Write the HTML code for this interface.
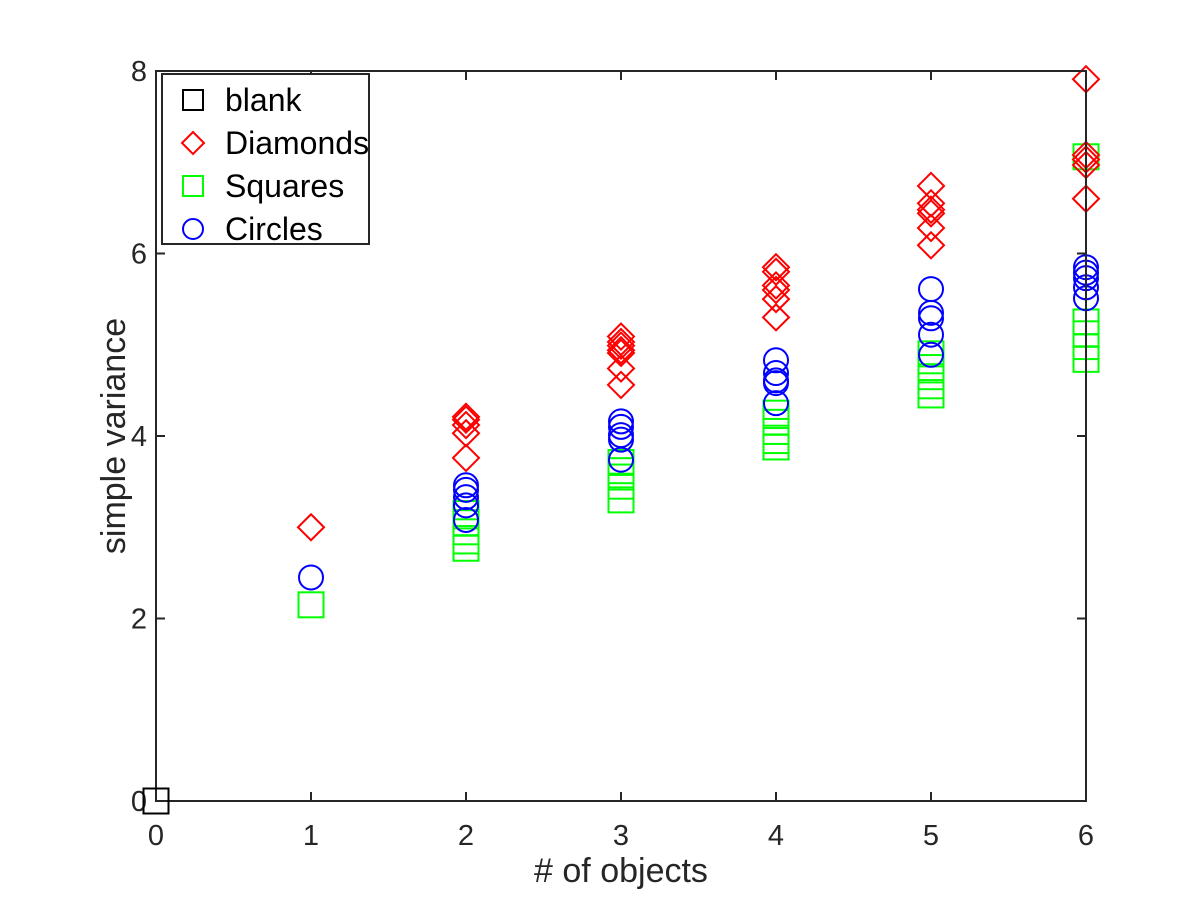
<!DOCTYPE html>
<html><head><meta charset="utf-8"><style>
html,body{margin:0;padding:0;background:#fff;}
svg{display:block;font-family:"Liberation Sans",sans-serif;}
</style></head><body>
<svg id="chart" width="1200" height="900" viewBox="0 0 1200 900">
<rect x="0" y="0" width="1200" height="900" fill="#fff"/>
<g id="marks"></g>
<g id="axes"></g>
<g id="legend"></g>
</svg>
<script>
const xTicks = [0,1,2,3,4,5,6];
const yTicks = [0,2,4,6,8];
const blankX = [0];
const blankY = [0];
const diamondX = [1, 2,2,2,2,2, 3,3,3,3,3,3,3, 4,4,4,4,4,4, 5,5,5,5,5,5, 6,6,6,6,6];
const diamondY = [3.0, 4.21,4.18,4.12,4.03,3.76, 5.09,5.03,4.99,4.94,4.91,4.74,4.56, 5.85,5.80,5.65,5.60,5.50,5.30, 6.74,6.55,6.48,6.44,6.28,6.09, 7.91,7.08,7.03,6.97,6.60];
const squareX = [1, 2,2,2,2,2, 3,3,3,3,3, 4,4,4,4,4, 5,5,5,5,5, 6,6,6,6,6];
const squareY = [2.15, 2.77,2.85,2.95,3.05,3.15, 3.30,3.45,3.55,3.62,3.71, 3.88,3.95,4.05,4.15,4.25, 4.45,4.55,4.65,4.75,4.90, 7.06,5.25,5.12,4.98,4.84];
const circleX = [1, 2,2,2,2,2, 3,3,3,3,3, 4,4,4,4,4, 5,5,5,5,5, 6,6,6,6,6];
const circleY = [2.45, 3.46,3.41,3.33,3.24,3.08, 4.16,4.10,4.01,3.96,3.74, 4.83,4.69,4.61,4.58,4.36, 5.61,5.35,5.29,5.11,4.89, 5.85,5.79,5.73,5.63,5.51];

const X0=156, X1=1086, Y0=801, Y1=71;
const sx = v => X0 + (v-0)/(6-0)*(X1-X0);
const sy = v => Y0 - (v-0)/(8-0)*(Y0-Y1);
const NS="http://www.w3.org/2000/svg";
function mk(tag, attrs, parent){const e=document.createElementNS(NS,tag);for(const k in attrs)e.setAttribute(k,attrs[k]);parent.appendChild(e);return e;}
const marks=document.getElementById('marks'), axes=document.getElementById('axes'), legend=document.getElementById('legend');

function square(cx,cy,h,color,parent,name){const e=mk('rect',{x:cx-h,y:cy-h,width:2*h,height:2*h,fill:'none',stroke:color,'stroke-width':2},parent);

return e;}
function diamond(cx,cy,h,color,parent,name){const e=mk('polygon',{points:`${cx},${cy-h} ${cx+h},${cy} ${cx},${cy+h} ${cx-h},${cy}`,fill:'none',stroke:color,'stroke-width':2},parent);

return e;}
function circle(cx,cy,r,color,parent,name){const e=mk('circle',{cx:cx,cy:cy,r:r,fill:'none',stroke:color,'stroke-width':2},parent);

return e;}

for(let i=0;i<squareX.length;i++) square(sx(squareX[i]),sy(squareY[i]),12.5,'#00ff00',marks,'square-point');
for(let i=0;i<circleX.length;i++) circle(sx(circleX[i]),sy(circleY[i]),12,'#0000ff',marks,'circle-point');
for(let i=0;i<diamondX.length;i++) diamond(sx(diamondX[i]),sy(diamondY[i]),13,'#ff0000',marks,'diamond-point');

const box=mk('rect',{x:X0,y:Y1,width:X1-X0,height:Y0-Y1,fill:'none',stroke:'#262626','stroke-width':2},axes);


for(const t of xTicks){const x=sx(t);
 mk('line',{x1:x,y1:Y0,x2:x,y2:Y0-9,stroke:'#262626','stroke-width':2},axes);
 mk('line',{x1:x,y1:Y1,x2:x,y2:Y1+9,stroke:'#262626','stroke-width':2},axes);
 const tx=mk('text',{x:x,y:Y0+44,'text-anchor':'middle','font-size':29,fill:'#262626'},axes);tx.textContent=t;
 
 }
for(const t of yTicks){const y=sy(t);
 mk('line',{x1:X0,y1:y,x2:X0+9,y2:y,stroke:'#262626','stroke-width':2},axes);
 mk('line',{x1:X1,y1:y,x2:X1-9,y2:y,stroke:'#262626','stroke-width':2},axes);
 const tx=mk('text',{x:X0-9,y:y+10,'text-anchor':'end','font-size':29,fill:'#262626'},axes);tx.textContent=t;
 
 }
const xl=mk('text',{x:621,y:882,'text-anchor':'middle','font-size':34,fill:'#262626'},axes);xl.textContent='# of objects';


const yl=mk('text',{x:0,y:0,'text-anchor':'middle','font-size':34,fill:'#262626',transform:'translate(125,436) rotate(-90)'},axes);yl.textContent='simple variance';



for(let i=0;i<blankX.length;i++) square(sx(blankX[i]),sy(blankY[i]),12.5,'#000000',axes,'blank-point');

const lb=mk('rect',{x:162,y:74,width:207,height:170,fill:'#fff',stroke:'#262626','stroke-width':2},legend);


const entries=[['blank','#000000',square],['Diamonds','#ff0000',diamond],['Squares','#00ff00',square],['Circles','#0000ff',circle]];
entries.forEach((e,i)=>{const y=100+i*43;
 const size = e[2]===diamond?11:10;
 e[2](193,y,size,e[1],legend,'legend-marker');
 const t=mk('text',{x:225,y:y+11,'font-size':32,fill:'#000'},legend);t.textContent=e[0];
 
 });
</script>
</body></html>
